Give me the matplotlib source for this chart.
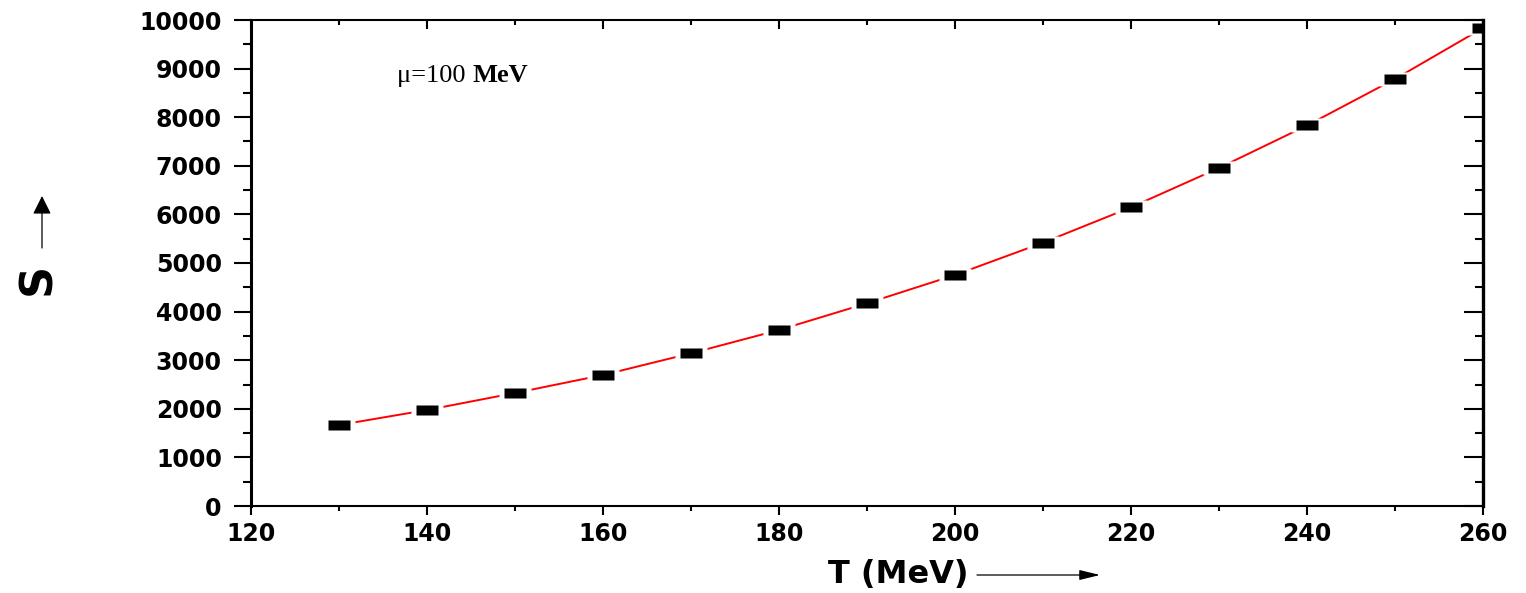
import matplotlib
matplotlib.use("Agg")
import matplotlib.pyplot as plt
from matplotlib.ticker import MultipleLocator

# data
T = [130, 140, 150, 160, 170, 180, 190, 200, 210, 220, 230, 240, 250, 260]
S = [1667, 1975, 2325, 2695, 3142, 3621, 4171, 4753, 5418, 6146, 6955, 7830, 8786, 9835]

W, H = 1526, 593
fig = plt.figure(figsize=(W / 100, H / 100), dpi=100)
ax = fig.add_axes([251 / W, 1 - 506 / H, (1483 - 251) / W, (506 - 20) / H])

rect = [(-1, -0.45), (1, -0.45), (1, 0.45), (-1, 0.45)]
ax.plot(T, S, color="red", lw=1.4, zorder=2)
ax.plot(T, S, ls="none", marker=rect, ms=23, mfc="white", mec="none", zorder=3)
ax.plot(T, S, ls="none", marker=rect, ms=16.5, mfc="black", mec="none", zorder=4)

ax.set_xlim(120, 260)
ax.set_ylim(0, 10000)
ax.xaxis.set_major_locator(MultipleLocator(20))
ax.xaxis.set_minor_locator(MultipleLocator(10))
ax.yaxis.set_major_locator(MultipleLocator(1000))
ax.yaxis.set_minor_locator(MultipleLocator(500))

tick_font = dict(fontfamily="DejaVu Sans", fontweight="heavy", fontsize=17)
for lab in ax.get_xticklabels() + ax.get_yticklabels():
    lab.set(**tick_font)

ax.tick_params(axis="y", which="major", direction="out", length=12, width=1.5, pad=9)
ax.tick_params(axis="y", which="minor", direction="out", length=6, width=1.5)
ax.tick_params(axis="x", which="major", direction="out", length=6.5, width=1.5, pad=5)
ax.tick_params(axis="x", which="minor", direction="out", length=3.5, width=1.5)

ax.spines["left"].set_linewidth(2.2)
ax.spines["bottom"].set_linewidth(1.5)
ax.spines["top"].set_visible(False)
ax.spines["right"].set_visible(False)

top = ax.secondary_xaxis("top")
top.xaxis.set_major_locator(MultipleLocator(20))
top.xaxis.set_minor_locator(MultipleLocator(10))
top.tick_params(which="major", direction="in", length=6.5, width=1.5, labeltop=False)
top.tick_params(which="minor", direction="in", length=3.5, width=1.5)
top.spines["top"].set_linewidth(1.5)
top.set_zorder(5)

right = ax.secondary_yaxis("right")
right.yaxis.set_major_locator(MultipleLocator(1000))
right.yaxis.set_minor_locator(MultipleLocator(500))
right.tick_params(which="major", direction="in", length=14, width=1.5, labelright=False)
right.tick_params(which="minor", direction="in", length=6, width=1.5)
right.spines["right"].set_linewidth(2.4)
right.set_zorder(5)

# annotation in the plot
t1 = ax.text(136.6, 8620, "\u03bc=100 ", fontfamily="Liberation Serif",
             fontsize=19, va="bottom", ha="left")
ax.annotate("MeV", xy=(1, 0), xycoords=t1, va="bottom", ha="left",
            fontfamily="Liberation Serif", fontweight="bold", fontsize=19)

# axis labels with arrows
fig.text(968 / W, 1 - 574 / H, "T (MeV)", fontfamily="DejaVu Sans",
         fontweight="heavy", fontsize=23, ha="right", va="center")
fig.text(38 / W, 1 - 279 / H, "S", fontfamily="DejaVu Sans", fontweight="heavy",
         fontsize=32, rotation=90, ha="center", va="center")

arrow = dict(arrowstyle="-|>,head_length=0.9,head_width=0.22", lw=0.9,
             color="black", shrinkA=0, shrinkB=0, mutation_scale=14)
ax.annotate("", xy=(1100 / W, 1 - 575 / H), xytext=(977 / W, 1 - 575 / H),
            xycoords="figure fraction", arrowprops=arrow)
ax.annotate("", xy=(42 / W, 1 - 196 / H), xytext=(42 / W, 1 - 248 / H),
            xycoords="figure fraction",
            arrowprops=dict(arrowstyle="-|>,head_length=0.8,head_width=0.4",
                            lw=0.9, color="black", shrinkA=0, shrinkB=0,
                            mutation_scale=14))

fig.savefig("out.png", dpi=100)
